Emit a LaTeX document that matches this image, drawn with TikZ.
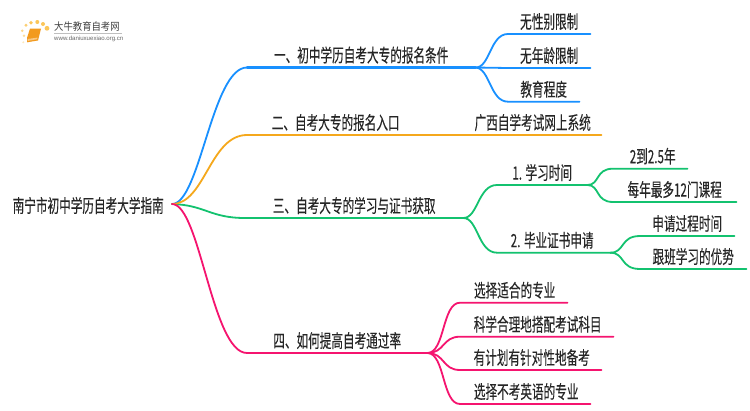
\documentclass[tikz,border=0pt]{standalone}
\usepackage{fontspec}
\setmainfont{Noto Sans CJK SC}[FakeStretch=0.635,FakeBold=0.12]
\newfontfamily\logofont{Noto Sans CJK SC}[FakeStretch=0.9]
\newfontfamily\urlfont{Liberation Sans}
\definecolor{cblue}{HTML}{1890FF}
\definecolor{cgold}{HTML}{F5A81C}
\definecolor{cgreen}{HTML}{13C26F}
\definecolor{cpink}{HTML}{F5146F}
\definecolor{cbook}{HTML}{F29A1E}
\definecolor{cdot}{HTML}{FBC65A}
\tikzset{
  itemtext/.style={anchor=south west,inner sep=0pt,minimum height=24.5pt,font=\fontsize{18.3pt}{19pt}\selectfont,text=black!85},
  link/.style={line width=1.8pt,line cap=round,line join=round},
  trunk/.style={line width=2.2pt,line cap=round},
  rootlink/.style={line width=1.8pt,line cap=round}
}
\newcommand{\leafat}[5]{\node[itemtext,minimum width=#4 pt] (#1) at (#2,#3) {#5};}
\begin{document}
\begin{tikzpicture}[x=1pt,y=-1pt]
\useasboundingbox (0,0) rectangle (750,410);
\fill[white] (0,0) rectangle (750,410);
% logo
\fill[cdot] (47,28.3) circle (2.4);
\fill[cdot] (43,24) circle (2);
\fill[cdot] (37.3,22) circle (2);
\fill[cdot] (31,22.7) circle (1.9);
\fill[cdot!85] (26,25.3) circle (1.6);
\fill[cdot!70] (22.3,30.7) circle (1.4);
\fill[cdot!60] (24,35.7) circle (1.3);
\fill[cdot!40] (23.3,42.3) circle (1.1);
\fill[cbook] (30,28.5) -- (41,28.5) -- (38,40.5) -- (27,42.3) -- (27,38) -- cycle;
\fill[cbook!55!white] (27.5,39) -- (37.5,37.6) -- (37.2,39.2) -- (27.5,41) -- cycle;
\node[inner sep=0pt,anchor=west,text=black!75] (logotitle) at (54,27) {\logofont\fontsize{10.4pt}{11pt}\selectfont 大牛教育自考网};
\draw[black!25,line width=.5pt] (54,33.3) -- (122,33.3);
\node[inner sep=0pt,anchor=west,text=black!60] (logourl) at (54,38.6) {\urlfont\fontsize{6.1pt}{7pt}\selectfont www.daniuxuexiao.org.cn};
% nodes
\node[inner sep=0pt,anchor=west,font=\fontsize{18.3pt}{19pt}\selectfont,text=black!85] (root) at (12.5,205.5) {南宁市初中学历自考大学指南};
\coordinate (hub) at (172,204);
\leafat{a}{247}{67.5}{228}{一、初中学历自考大专的报名条件}
\leafat{a1}{508}{34}{82}{无性别限制}
\leafat{a2}{508}{68}{82}{无年龄限制}
\leafat{a3}{508}{101.7}{71}{教育程度}
\leafat{b}{247}{135}{177}{二、自考大专的报名入口}
\leafat{b1}{464}{135}{137}{广西自学考试网上系统}
\leafat{c}{245}{218}{218}{三、自考大专的学习与证书获取}
\leafat{c1}{497}{185}{90}{1. 学习时间}
\leafat{c2}{497}{252.7}{113}{\hspace*{-3pt}2. 毕业证书申请}
\leafat{c11}{613}{168.7}{74}{\hspace*{5pt}2到2.5年}
\leafat{c12}{613}{202}{123}{每年最多12门课程}
\leafat{c21}{640}{236}{94}{申请过程时间}
\leafat{c22}{640}{269}{106}{跟班学习的优势}
\leafat{d}{247}{353}{180}{四、如何提高自考通过率}
\leafat{d1}{460}{302.7}{107}{\hspace*{2pt}选择适合的专业}
\leafat{d2}{460}{336.7}{153}{\hspace*{2pt}科学合理地搭配考试科目}
\leafat{d3}{460}{370}{141}{\hspace*{2pt}有计划有针对性地备考}
\leafat{d4}{460}{404}{130}{\hspace*{2pt}选择不考英语的专业}
% connectors
\draw[rootlink,cgreen] (hub) .. controls (205,205) and (210,218) .. (c.south west) -- (c.south east);
\draw[rootlink,cblue] (hub) .. controls (200,204) and (212,67.5) .. (a.south west);
\draw[trunk,cblue] (a.south west) -- (a.south east);
\draw[rootlink,cgold] (hub) .. controls (205,204) and (210,135) .. (b.south west) -- (b1.south east);
\draw[rootlink,cpink] (hub) .. controls (200,204) and (212,353) .. (d.south west);
\draw[trunk,cpink] (d.south west) -- (d.south east);
\draw[link,cblue] (a.south east) .. controls (490,68) and (490,34) .. (a1.south west) -- (a1.south east);
\draw[link,cblue] (a.south east) -- (a2.south west) -- (a2.south east);
\draw[link,cblue] (a.south east) .. controls (490,68) and (490,101.7) .. (a3.south west) -- (a3.south east);
\draw[link,cgreen] (c.south east) .. controls (478,218) and (478,185) .. (c1.south west) -- (c1.south east);
\draw[link,cgreen] (c.south east) .. controls (478,218) and (478,252.7) .. (c2.south west) -- (c2.south east);
\draw[link,cgreen] (c1.south east) .. controls (600,185) and (595,168.7) .. (c11.south west) -- (c11.south east);
\draw[link,cgreen] (c1.south east) .. controls (600,185) and (595,202) .. (c12.south west) -- (c12.south east);
\draw[link,cgreen] (c2.south east) .. controls (625,252.7) and (620,236) .. (c21.south west) -- (c21.south east);
\draw[link,cgreen] (c2.south east) .. controls (625,252.7) and (620,269) .. (c22.south west) -- (c22.south east);
\draw[link,cpink] (d.south east) .. controls (445,353) and (442,302.7) .. (d1.south west) -- (d1.south east);
\draw[link,cpink] (d.south east) .. controls (445,353) and (442,336.7) .. (d2.south west) -- (d2.south east);
\draw[link,cpink] (d.south east) .. controls (445,353) and (442,370) .. (d3.south west) -- (d3.south east);
\draw[link,cpink] (d.south east) .. controls (445,353) and (442,404) .. (d4.south west) -- (d4.south east);
\end{tikzpicture}
\end{document}
